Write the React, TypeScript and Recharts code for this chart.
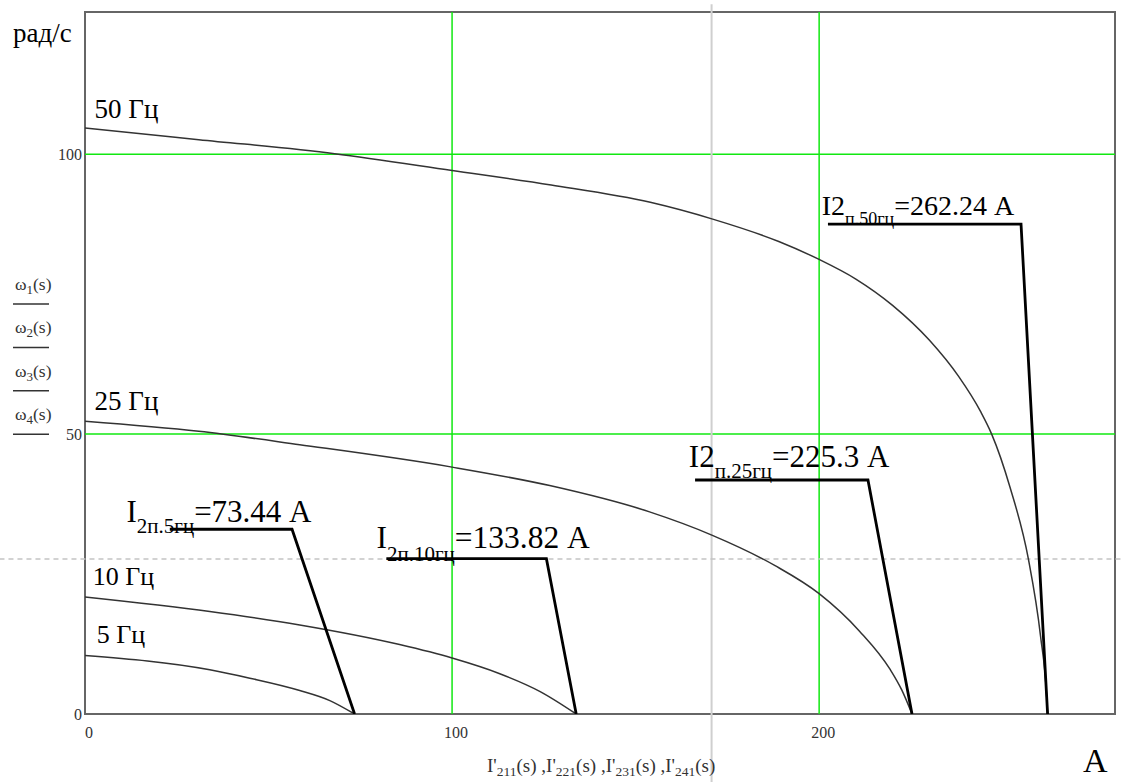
import React from 'react';
import { LineChart, Line, XAxis, YAxis, ReferenceLine, ReferenceDot, ReferenceArea } from 'recharts';

const FONT = "'Liberation Serif', 'Times New Roman', serif";

// ω(I) characteristics, I in A, ω in rad/s
const curve50Hz = [
  { I: 0, w: 104.7 }, { I: 31, w: 102.6 }, { I: 68, w: 100.1 }, { I: 100, w: 97.1 },
  { I: 127, w: 94.5 }, { I: 154, w: 91.4 }, { I: 171, w: 88.4 }, { I: 189, w: 84.4 },
  { I: 200, w: 81.2 }, { I: 210, w: 77.7 }, { I: 220, w: 73.0 }, { I: 230, w: 66.8 },
  { I: 238, w: 60.3 }, { I: 244, w: 54.0 }, { I: 247, w: 50 }, { I: 252, w: 40.5 },
  { I: 257, w: 27.7 }, { I: 260.3, w: 14 }, { I: 262.0, w: 3 }, { I: 262.24, w: 0 },
];
const curve25Hz = [
  { I: 0, w: 52.3 }, { I: 31, w: 50.5 }, { I: 58.5, w: 48.1 }, { I: 100, w: 44.1 },
  { I: 126.6, w: 40.8 }, { I: 153.8, w: 36.1 }, { I: 170.6, w: 32.0 }, { I: 188, w: 26.5 },
  { I: 200, w: 21.5 }, { I: 211, w: 14.8 }, { I: 219.3, w: 8.0 }, { I: 222.5, w: 4.3 },
  { I: 225.3, w: 0 },
];
const curve10Hz = [
  { I: 0, w: 20.9 }, { I: 34, w: 18.3 }, { I: 58.5, w: 15.9 }, { I: 85.7, w: 12.4 },
  { I: 100, w: 10.0 }, { I: 113, w: 7.2 }, { I: 124, w: 4.0 }, { I: 133.82, w: 0 },
];
const curve5Hz = [
  { I: 0, w: 10.45 }, { I: 34, w: 7.9 }, { I: 44.9, w: 6.4 }, { I: 58.5, w: 4.2 },
  { I: 66.7, w: 2.4 }, { I: 73.44, w: 0 },
];

// starting-current marker lines
const marker50 = [{ I: 202.4, w: 87.5 }, { I: 255, w: 87.5 }, { I: 262.24, w: 0 }];
const marker25 = [{ I: 166.2, w: 41.8 }, { I: 213.3, w: 41.8 }, { I: 225.3, w: 0 }];
const marker10 = [{ I: 82.1, w: 27.75 }, { I: 125.7, w: 27.75 }, { I: 133.82, w: 0 }];
const marker5 = [{ I: 23.1, w: 33 }, { I: 56.4, w: 33 }, { I: 73.44, w: 0 }];

const xTicks = [0, 100, 200];
const yTicks = [0, 50, 100];
const xDomain = [0, 280.6];
const yDomain = [0, 125.4];

const freqLabels = [
  { I: 2.6, w: 106.4, text: '50 Гц', size: 27 },
  { I: 2.6, w: 54.3, text: '25 Гц', size: 27 },
  { I: 2.1, w: 23.0, text: '10 Гц', size: 26 },
  { I: 3.2, w: 12.7, text: '5 Гц', size: 26 },
];

const currentLabels = [
  { I: 200.7, w: 89.1, main: 'I2', sub: 'п.50гц', value: '=262.24 A', size: 28, subSize: 18, dy: 10 },
  { I: 164.5, w: 44.16, main: 'I2', sub: 'п.25гц', value: '=225.3 A', size: 31, subSize: 21, dy: 11 },
  { I: 79.4, w: 29.6, main: 'I', sub: '2п.10гц', value: '=133.82 A', size: 31.5, subSize: 21, dy: 13 },
  { I: 11.3, w: 34.3, main: 'I', sub: '2п.5гц', value: '=73.44 A', size: 31, subSize: 21, dy: 11 },
];

const cursorX = 170.7;
const cursorY = 27.7;

const XTick = (props: any) => {
  const { x, y, payload } = props;
  return (
    <text x={x + 4} y={y + 24} textAnchor="middle" fontSize={16} fontFamily={FONT} fill="#333">
      {payload.value}
    </text>
  );
};

const YTick = (props: any) => {
  const { x, y, payload } = props;
  return (
    <text x={x - 3} y={y + 6} textAnchor="end" fontSize={16} fontFamily={FONT} fill="#333">
      {payload.value}
    </text>
  );
};

const YLabel = () => {
  const idx = ['1', '2', '3', '4'];
  return (
    <g fontFamily={FONT}>
      <text x={13} y={42} fontSize={27} fill="#000">рад/с</text>
      {idx.map((n, i) => (
        <g key={n}>
          <text x={15} y={290 + i * 43.4} fontSize={17.5} fill="#333">
            ω<tspan fontSize={13} dy={4}>{n}</tspan><tspan dy={-4}>(s)</tspan>
          </text>
          <line x1={13} x2={49} y1={304 + i * 43.4} y2={304 + i * 43.4} stroke="#333" strokeWidth={1.5} />
        </g>
      ))}
    </g>
  );
};

const XLabel = () => {
  const subs = ['211', '221', '231', '241'];
  return (
    <g fontFamily={FONT}>
      <text x={487} y={772} fontSize={19} fill="#333" style={{ whiteSpace: 'pre' }}>
        {subs.map((s, i) => (
          <React.Fragment key={s}>
            <tspan>{(i > 0 ? ' ,' : '') + "I'"}</tspan>
            <tspan fontSize={13.5} dy={4}>{s}</tspan>
            <tspan dy={-4}>(s)</tspan>
          </React.Fragment>
        ))}
      </text>
      <text x={1083} y={772} fontSize={34} fill="#000">A</text>
    </g>
  );
};

export default function App() {
  return (
    <div style={{ position: 'absolute', left: 0, top: 0, width: 1122, height: 782, background: '#fff' }}>
      <LineChart width={1122} height={782} margin={{ top: 12, right: 7, bottom: 0, left: 0 }}>
        <XAxis
          type="number"
          dataKey="I"
          domain={xDomain}
          ticks={xTicks}
          allowDataOverflow
          axisLine={false}
          tickLine={false}
          tickSize={0}
          tickMargin={0}
          height={68}
          tick={XTick}
          label={XLabel}
        />
        <YAxis
          type="number"
          dataKey="w"
          domain={yDomain}
          ticks={yTicks}
          allowDataOverflow
          axisLine={false}
          tickLine={false}
          tickSize={0}
          tickMargin={0}
          width={85}
          tick={YTick}
          label={YLabel}
        />
        <ReferenceArea x1={xDomain[0]} x2={xDomain[1]} y1={yDomain[0]} y2={yDomain[1]} fill="none" stroke="#666" strokeWidth={2} ifOverflow="visible" />
        {xTicks.filter((t) => t > 0).map((t) => (
          <ReferenceLine key={'gx' + t} x={t} stroke="#11e811" strokeWidth={1.5} />
        ))}
        {yTicks.filter((t) => t > 0).map((t) => (
          <ReferenceLine key={'gy' + t} y={t} stroke="#11e811" strokeWidth={1.5} />
        ))}
        <ReferenceLine
          segment={[{ x: cursorX, y: -12.2 }, { x: cursorX, y: 126.8 }]}
          stroke="#cfcfcf"
          strokeWidth={2}
          ifOverflow="visible"
        />
        <ReferenceLine
          segment={[{ x: -23.3, y: cursorY }, { x: 282.6, y: cursorY }]}
          stroke="#c4c4c4"
          strokeWidth={1.5}
          strokeDasharray="5 4"
          ifOverflow="visible"
        />
        {[curve50Hz, curve25Hz, curve10Hz, curve5Hz].map((d, i) => (
          <Line key={'c' + i} data={d} dataKey="w" type="monotone" stroke="#333" strokeWidth={1.5} dot={false} isAnimationActive={false} />
        ))}
        {[marker50, marker25, marker10, marker5].map((d, i) => (
          <Line key={'m' + i} data={d} dataKey="w" type="linear" stroke="#000" strokeWidth={2.8} dot={false} isAnimationActive={false} />
        ))}
        {freqLabels.map((l) => (
          <ReferenceDot
            key={l.text}
            x={l.I}
            y={l.w}
            r={1}
            ifOverflow="visible"
            shape={(p: any) => (
              <text x={p.cx} y={p.cy} fontSize={l.size} fontFamily={FONT} fill="#000">{l.text}</text>
            )}
          />
        ))}
        {currentLabels.map((l) => (
          <ReferenceDot
            key={l.value}
            x={l.I}
            y={l.w}
            r={1}
            ifOverflow="visible"
            shape={(p: any) => (
              <text x={p.cx} y={p.cy} fontSize={l.size} fontFamily={FONT} fill="#000" style={{ whiteSpace: 'pre' }}>
                {l.main}
                <tspan fontSize={l.subSize} dy={l.dy}>{l.sub}</tspan>
                <tspan dy={-l.dy}>{l.value}</tspan>
              </text>
            )}
          />
        ))}
      </LineChart>
    </div>
  );
}
